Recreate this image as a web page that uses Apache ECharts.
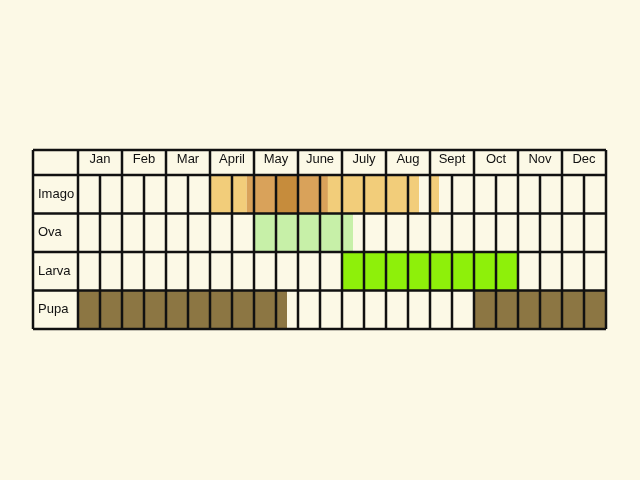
<!DOCTYPE html>
<html>
<head>
<meta charset="utf-8">
<script src="https://cdn.jsdelivr.net/npm/echarts@6/dist/echarts.min.js"></script>
<style>
  html, body { margin: 0; padding: 0; background: #fcf9e6; }
  #main { width: 640px; height: 480px; }
</style>
</head>
<body>
<div id="main"></div>
<script>
// x is in half-month slots: 0 = start of Jan, 24 = end of Dec
const months = ['Jan', 'Feb', 'Mar', 'April', 'May', 'June', 'July', 'Aug', 'Sept', 'Oct', 'Nov', 'Dec']
const stages = ['Imago', 'Ova', 'Larva', 'Pupa']
const colors = {
  imagoLight: '#f2cd7a',
  imagoMid: '#d9a25a',
  imagoDark: '#c68c3c',
  ova: '#c7f0a8',
  larva: '#8ef00a',
  pupa: '#8c7643'
}
// [stage, from, to, colour key]
const imagoSpans = [
  [0, 6, 7.67, 'imagoLight'],
  [0, 7.67, 8, 'imagoMid'],
  [0, 8, 9, 'imagoMid'],
  [0, 9, 10, 'imagoDark'],
  [0, 10, 11.36, 'imagoMid'],
  [0, 11.36, 15.5, 'imagoLight'],
  [0, 16, 16.41, 'imagoLight']
]
const ovaSpans = [[1, 8, 12.5, 'ova']]
const larvaSpans = [[2, 12, 20, 'larva']]
const pupaSpans = [[3, 0, 9.5, 'pupa'], [3, 18, 24, 'pupa']]

const spans = [].concat(imagoSpans, ovaSpans, larvaSpans, pupaSpans)

const myEcharts = echarts.init(document.getElementById('main'))

const renderSpan = (params, api) => {
  const row = api.value(0)
  const a = api.coord([api.value(1), row])
  const b = api.coord([api.value(2), row])
  const h = api.size([0, 1])[1]
  return {
    type: 'rect',
    shape: { x: a[0], y: a[1] - h / 2, width: b[0] - a[0], height: h },
    style: { fill: colors[api.value(3)] }
  }
}

// table lines: one vertical per slot, one horizontal per row, plus header and label column
const renderFrame = (params, api) => {
  if (params.dataIndex !== 0) return
  const headerH = 25, labelW = 45
  const tl = api.coord([0, 0])
  const rowH = api.size([0, 1])[1]
  const top = tl[1] - rowH / 2
  const bottom = top + rowH * stages.length
  const left = tl[0]
  const right = api.coord([24, 0])[0]
  const lines = []
  const line = (x1, y1, x2, y2) => lines.push({
    type: 'line', shape: { x1, y1, x2, y2 },
    style: { stroke: '#111', lineWidth: 2.5 }
  })
  for (let i = 0; i <= 24; i++) {
    const x = api.coord([i, 0])[0]
    line(x, i % 2 === 0 ? top - headerH : top, x, bottom)
  }
  for (let r = 0; r <= stages.length; r++) {
    const y = top + r * rowH
    line(left - labelW, y, right, y)
  }
  line(left - labelW, top - headerH, right, top - headerH)
  line(left - labelW, top - headerH, left - labelW, bottom)
  return { type: 'group', children: lines }
}

myEcharts.setOption({
  animation: false,
  backgroundColor: '#fcf9e6',
  textStyle: { fontFamily: 'Liberation Sans, Arial, sans-serif' },
  grid: { left: 78, right: 34, top: 175, bottom: 151 },
  xAxis: [
    { type: 'value', min: 0, max: 24, interval: 1, show: false },
    {
      type: 'category', data: months, position: 'top', gridIndex: 0,
      axisLine: { show: false }, axisTick: { show: false }, splitLine: { show: false },
      axisLabel: { color: '#111', fontSize: 13, margin: 9 }
    }
  ],
  yAxis: {
    type: 'category', data: stages, inverse: true,
    axisLine: { show: false }, axisTick: { show: false }, splitLine: { show: false },
    axisLabel: { color: '#111', fontSize: 13, align: 'left', margin: 40 }
  },
  series: [
    {
      type: 'custom', renderItem: renderSpan, clip: false,
      encode: { x: [1, 2], y: 0 },
      data: spans.map(s => [s[0], s[1], s[2], s[3]])
    },
    {
      type: 'custom', renderItem: renderFrame, clip: false, z: 5,
      data: [[0, 0]]
    }
  ]
})
</script>
</body>
</html>
